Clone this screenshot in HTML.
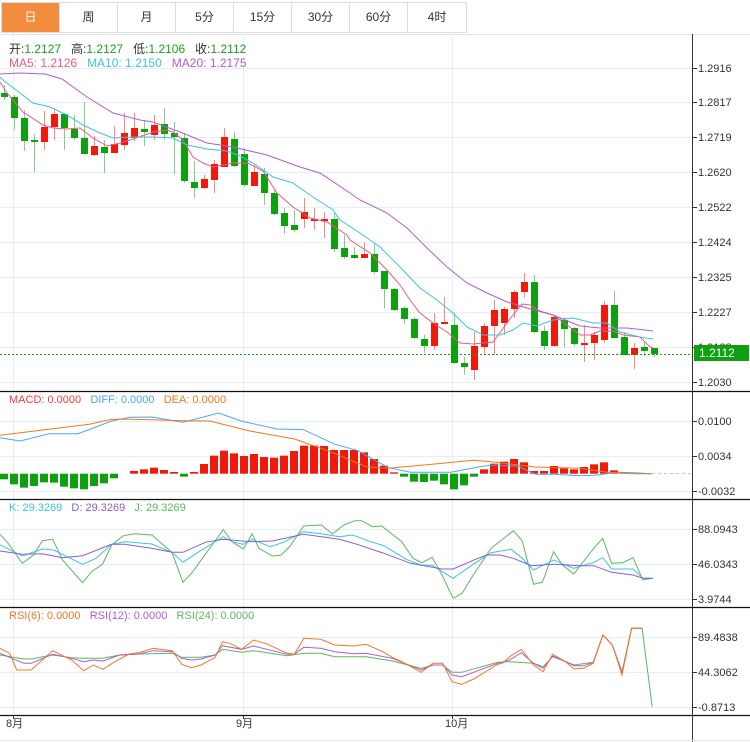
<!DOCTYPE html>
<html><head><meta charset="utf-8">
<style>
body{margin:0;background:#fff;width:750px;height:742px;overflow:hidden;font-family:"Liberation Sans","Noto Sans CJK SC",sans-serif;}
#wrap{position:relative;width:750px;height:742px;}
.tabs{position:absolute;left:1px;top:2px;height:31px;display:flex;border:1px solid #ddd;box-sizing:border-box;}
.tab{width:58px;height:29px;line-height:29px;text-align:center;font-size:12px;color:#333;border-right:1px solid #ddd;box-sizing:border-box;}
.tab.on{background:#f28c3f;color:#fff;}
.t{position:absolute;font-size:12px;white-space:nowrap;}
</style></head><body><div id="wrap">
<div class="tabs"><div class="tab on">日</div><div class="tab">周</div><div class="tab">月</div><div class="tab">5分</div><div class="tab">15分</div><div class="tab">30分</div><div class="tab">60分</div><div class="tab" style="border-right:none">4时</div></div>
<svg id="s" width="750" height="742" style="position:absolute;left:0;top:0" xmlns="http://www.w3.org/2000/svg"></svg>
<div class="t" style="left:9px;top:40px;color:#333">开:<span style="color:#1a9e1a">1.2127</span>&nbsp;&nbsp; 高:<span style="color:#1a9e1a">1.2127</span>&nbsp;&nbsp; 低:<span style="color:#1a9e1a">1.2106</span>&nbsp;&nbsp; 收:<span style="color:#1a9e1a">1.2112</span></div>
<div class="t" style="left:9px;top:56px"><span style="color:#ea5a8a">MA5: 1.2126</span>&nbsp;&nbsp; <span style="color:#3cc4dc">MA10: 1.2150</span>&nbsp;&nbsp; <span style="color:#b05cd4">MA20: 1.2175</span></div>
<div class="t" style="left:9px;top:394px;font-size:11px"><span style="color:#f03c3c">MACD: 0.0000</span>&nbsp;&nbsp; <span style="color:#4aa8f0">DIFF: 0.0000</span>&nbsp;&nbsp; <span style="color:#f0781e">DEA: 0.0000</span></div>
<div class="t" style="left:9px;top:502px;font-size:11px"><span style="color:#3cc4dc">K: 29.3269</span>&nbsp;&nbsp; <span style="color:#8c5cd4">D: 29.3269</span>&nbsp;&nbsp; <span style="color:#5cb85c">J: 29.3269</span></div>
<div class="t" style="left:9px;top:610px;font-size:11px"><span style="color:#f07828">RSI(6): 0.0000</span>&nbsp;&nbsp; <span style="color:#b05cd4">RSI(12): 0.0000</span>&nbsp;&nbsp; <span style="color:#5cb85c">RSI(24): 0.0000</span></div>
</div>
<script>
var S=document.getElementById('s'),h='';
function L(x1,y1,x2,y2,c,w,d){h+='<line x1="'+x1+'" y1="'+y1+'" x2="'+x2+'" y2="'+y2+'" stroke="'+c+'" stroke-width="'+(w||1)+'"'+(d?' stroke-dasharray="'+d+'"':'')+'/>';}
function R(x,y,w,hh,c,o){h+='<rect x="'+x+'" y="'+y+'" width="'+w+'" height="'+hh+'" fill="'+c+'"'+(o?' opacity="'+o+'"':'')+'/>';}
function T(x,y,s,c,fs){h+='<text x="'+x+'" y="'+y+'" fill="'+(c||'#333')+'" font-size="'+(fs||11)+'" font-family="Liberation Sans, Noto Sans CJK SC, sans-serif">'+s+'</text>';}
function P(pts,c,sx,sy,ox,oy){var a=[];for(var i=0;i<pts.length;i++)a.push((ox+pts[i][0]/sx).toFixed(1)+','+(oy+pts[i][1]/sy).toFixed(1));h+='<polyline points="'+a.join(' ')+'" fill="none" stroke="'+c+'" stroke-width="1"/>';}
var GC='#e6edf3';
// grid horizontals
[68,102,137,172,207,242,277,312,347,382,421,456,491,529,564,599,637,672,707].forEach(function(y){L(0,y+.5,692,y+.5,GC);});
// vertical grids
[13,243,452].forEach(function(x){L(x+.5,35,x+.5,715,GC);});
// panel separators
[391,499,607,715].forEach(function(y){L(0,y+.5,750,y+.5,'#111',1.2);});
L(0,34.5,750,34.5,'#e4e4e4');
L(692.5,34,692.5,742,'#333');
L(0,740.5,750,740.5,'#e4e4e4');
// axis labels
var lab=[[68,'1.2916'],[102,'1.2817'],[137,'1.2719'],[172,'1.2620'],[207,'1.2522'],[242,'1.2424'],[277,'1.2325'],[312,'1.2227'],[347,'1.2128'],[382,'1.2030'],[421,'0.0100'],[456,'0.0034'],[491,'-0.0032'],[529,'88.0943'],[564,'46.0343'],[599,'3.9744'],[637,'89.4838'],[672,'44.3062'],[707,'-0.8713']];
lab.forEach(function(a){L(692,a[0]+.5,697,a[0]+.5,'#333');T(698,a[0]+4,a[1]);});
// candles
var C=[['g',93,97,85,100],['g',97,118,95,130],['g',118,141,110,151],['g',140,142,134,172],['r',127,142,111,150],['r',114,127,110,140],['g',114,128,113,150],['g',129,138,115,140],['g',138,154,102,154],['r',146,155,136,156],['g',147,153,140,173],['r',144,153,126,153],['r',133,145,113,150],['r',128,138,113,141],['g',129,132,120,146],['r',125,135,115,140],['g',124,134,108,140],['g',133,137,122,174],['g',138,181,133,183],['g',182,188,161,198],['r',179,188,175,189],['r',164,180,160,193],['r',137,167,128,167],['g',139,166,132,167],['g',154,185,148,187],['r',172,186,165,186],['g',174,193,168,205],['g',193,214,190,215],['g',213,226,208,234],['g',225,230,210,232],['r',212,219,198,228],['r',219,221,208,230],['r',219,221,212,238],['g',219,249,213,252],['g',248,257,235,259],['g',255,258,247,259],['r',254,258,242,258],['g',254,272,243,274],['g',271,289,271,308],['g',289,310,288,311],['g',308,319,306,324],['g',319,338,317,339],['g',339,346,335,353],['r',323,346,313,350],['r',322,324,297,324],['g',325,363,313,364],['g',363,367,357,375],['r',346,370,332,380],['r',326,347,323,354],['r',310,326,300,355],['r',309,323,307,335],['r',292,309,290,318],['r',282,292,273,298],['g',282,332,275,333],['g',331,346,326,350],['r',317,346,316,347],['g',320,329,317,347],['g',328,344,327,346],['r',343,345,325,362],['r',335,343,332,360],['r',305,340,301,343],['g',305,338,291,338],['g',337,355,332,355],['r',348,355,343,369],['g',347,351,342,356],['g',348,354,348,357]];
C.forEach(function(c,i){var x=4+10*i,col=c[0]=='r'?'#f01a0c':'#0fa00f';
L(x+.5,c[3],x+.5,c[4],col,1);h=h.replace(/(<line[^>]*)\/>$/,'$1 opacity="0.5"/>');
R(x-3,c[1],7,Math.max(2,c[2]-c[1]),col);});
// MA lines (real coords)
P([[0,82],[7,93],[23,112],[43,125],[53,128],[67,129],[80,128],[93,138],[107,146],[120,143],[133,139],[153,132],[167,130],[173,132],[183,140],[193,157],[203,163],[213,167],[223,165],[233,163],[248,163],[263,171],[277,193],[293,207],[310,218],[327,222],[347,235],[350,240],[370,253],[387,270],[400,285],[410,300],[420,313],[433,323],[447,332],[460,343],[473,344],[493,342],[507,323],[513,315],[522,304],[530,305],[540,311],[553,315],[567,325],[580,335],[590,335],[600,331],[613,331],[623,335],[640,337],[650,347],[653,348]],'#ea5a8a',1,1,0,0);
P([[0,77],[3,80],[20,93],[33,103],[50,107],[67,115],[83,125],[100,133],[113,138],[133,137],[153,137],[173,138],[187,145],[207,149],[227,151],[240,156],[253,163],[273,177],[293,183],[313,197],[333,210],[340,220],[360,233],[380,247],[400,267],[420,288],[437,300],[453,313],[467,327],[483,335],[500,335],[513,330],[523,323],[537,326],[553,320],[573,318],[593,323],[607,323],[620,332],[640,337],[653,339]],'#3cc4dc',1,1,0,0);
P([[0,74],[20,73],[45,74],[62,79],[87,97],[113,113],[140,120],[153,122],[180,132],[207,143],[233,147],[267,155],[300,167],[320,173],[350,193],[360,200],[387,213],[407,228],[427,248],[447,267],[467,283],[487,293],[507,302],[527,308],[553,315],[580,326],[600,328],[627,328],[653,331]],'#b05cd4',1,1,0,0);
// current price line
L(0,354.5,692,354.5,'#0fa00f',1,'2,2');
R(694,345,55,16,'#0fa00f');T(699,357,'1.2112','#fff',12);
// MACD bars
var zero=473.7,B=[283,298,308,303,292,293,305,310,313,303,295,280,264,258,253,248,255,261,275,261,237,212,197,205,213,207,216,218,212,198,182,182,183,195,195,195,202,222,242,262,275,290,291,287,298,313,301,275,253,236,230,222,232,258,258,243,250,253,246,238,232,256,262,265,266,266];
B.forEach(function(z,i){var y=385+z/3,x=4+10*i;if(Math.abs(y-zero)<0.8)return;var col=y<zero?'#f01a0c':'#0fa00f';R(x-4,Math.min(y,zero),8,Math.abs(y-zero),col);});
L(652,473.5,692,473.5,'#9fd3f0',1,'3,3');
P([[0,158],[45,168],[110,146],[175,146],[250,108],[290,97],[340,96],[410,112],[490,84],[540,108],[620,132],[680,134],[750,178],[800,196],[870,248],[920,262],[1010,262],[1080,244],[1110,240],[1160,244],[1200,268],[1240,268],[1300,272],[1340,270],[1380,262],[1420,263],[1460,266]],'#4aa8f0',2.24,3,0,385);
P([[0,151],[100,134],[200,118],[250,103],[300,103],[410,107],[470,108],[560,138],[660,162],[740,200],[820,245],[870,250],[980,236],[1060,226],[1100,230],[1200,246],[1300,250],[1360,262],[1420,266],[1460,266]],'#f0781e',2.24,3,0,385);
// KDJ
P([[0,118],[20,148],[50,205],[75,180],[95,137],[118,133],[140,195],[185,263],[205,230],[230,207],[250,150],[275,123],[300,116],[340,120],[385,172],[410,262],[430,233],[500,104],[520,140],[545,162],[565,117],[580,160],[610,183],[630,180],[650,153],[680,93],[720,90],[745,117],[770,90],[795,77],[810,77],[835,95],[855,93],[900,140],[925,190],[945,203],[968,187],[990,240],[1015,310],[1035,295],[1060,240],[1100,160],[1150,107],[1170,138],[1195,268],[1215,262],[1240,170],[1260,210],[1285,237],[1330,160],[1350,130],[1370,205],[1395,203],[1418,188],[1440,255],[1462,250]],'#5cb85c',2.24,3,0,495);
P([[0,150],[50,183],[95,162],[120,165],[185,208],[215,190],[250,148],[280,140],[340,147],[385,172],[410,202],[440,175],[500,125],[520,140],[545,148],[565,133],[605,155],[635,142],[680,110],[720,116],[760,125],[790,120],[830,140],[860,152],[910,193],[945,211],[968,211],[1015,250],[1060,208],[1100,173],[1145,163],[1170,190],[1195,225],[1240,195],[1285,220],[1330,202],[1350,188],[1370,222],[1418,222],[1440,250],[1462,250]],'#3cc4dc',2.24,3,0,495);
P([[0,168],[50,178],[95,176],[140,188],[185,182],[250,148],[280,148],[340,160],[385,172],[410,172],[460,142],[500,133],[560,140],[610,138],[680,118],[760,133],[800,148],[860,175],[920,205],[990,222],[1015,222],[1060,196],[1090,180],[1120,180],[1150,190],[1190,212],[1240,208],[1300,212],[1330,212],[1370,232],[1418,240],[1440,250],[1462,250]],'#8c5cd4',2.24,3,0,495);
// RSI
P([[0,150],[50,162],[65,162],[110,150],[150,158],[175,160],[215,160],[250,150],[290,147],[360,145],[380,157],[420,157],[450,150],[465,133],[505,142],[530,137],[600,152],[635,145],[670,145],[700,155],[765,155],[820,168],[880,190],[905,180],[925,180],[945,202],[965,202],[1040,172],[1065,170],[1115,175],[1135,185],[1155,155],[1200,180],[1240,172],[1260,90],[1280,120],[1300,200],[1320,70],[1342,70],[1363,305]],'#5cb85c',2.09,3,0,605);
P([[0,145],[50,175],[65,175],[110,148],[150,160],[175,170],[195,165],[215,168],[250,150],[290,147],[320,137],[360,140],[380,160],[400,165],[420,162],[450,150],[465,122],[505,133],[530,123],[600,148],[615,148],[635,127],[670,130],[700,140],[740,146],[765,145],[820,160],[880,195],[905,180],[925,180],[945,210],[965,215],[1040,175],[1065,165],[1090,143],[1115,175],[1135,190],[1155,153],[1180,168],[1200,182],[1220,182],[1240,172],[1260,90],[1280,120],[1300,205],[1320,70],[1342,70]],'#b05cd4',2.09,3,0,605);
P([[0,130],[20,145],[35,195],[65,195],[110,137],[150,165],[175,197],[195,180],[215,193],[240,170],[270,147],[290,143],[320,130],[360,137],[380,178],[400,188],[420,180],[450,157],[465,110],[480,115],[505,133],[530,105],[560,118],[600,145],[615,148],[635,100],[670,103],[700,120],[740,123],[765,118],[800,140],[820,157],[840,170],[880,202],[905,175],[925,175],[945,230],[965,238],[990,222],[1040,178],[1050,175],[1065,155],[1090,133],[1115,180],[1135,200],[1155,148],[1180,168],[1200,192],[1220,190],[1240,175],[1260,90],[1280,120],[1300,210],[1320,70],[1342,70]],'#f07828',2.09,3,0,605);
// x labels
T(6,727,'8月','#333',11);T(236,727,'9月','#333',11);T(445,727,'10月','#333',11);
L(13.5,715,13.5,719,'#333');L(243.5,715,243.5,719,'#333');L(452.5,715,452.5,719,'#333');
S.innerHTML=h;
</script>
</body></html>
